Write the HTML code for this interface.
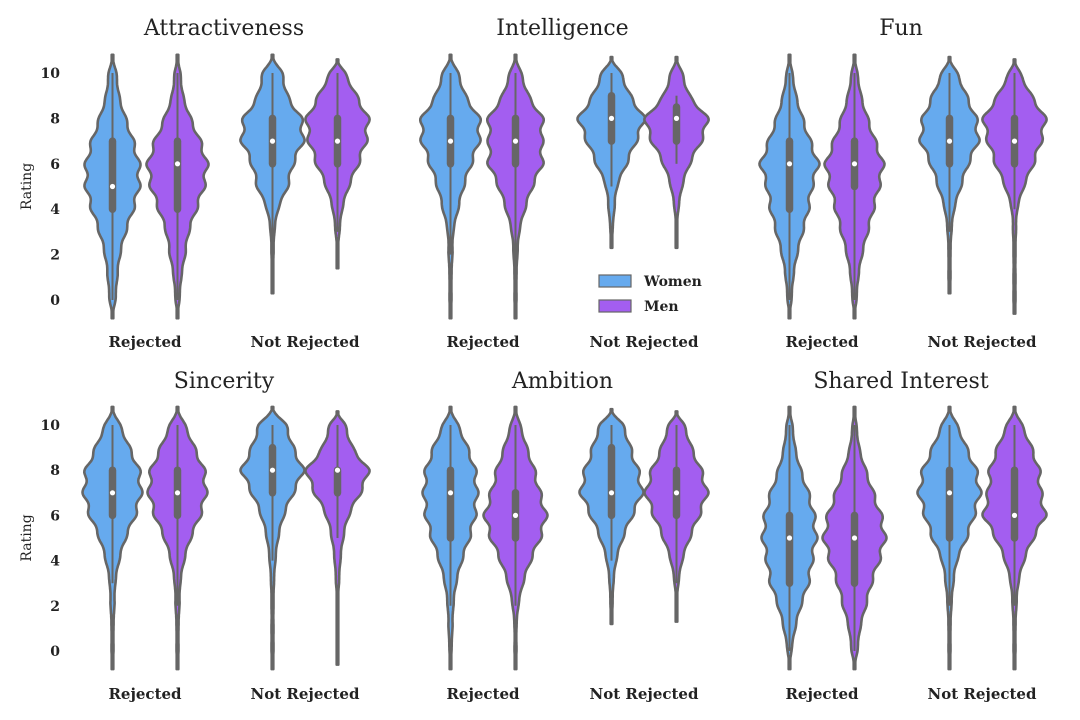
<!DOCTYPE html>
<html><head><meta charset="utf-8"><style>
body{margin:0;background:#fff}
svg{display:block;font-family:"DejaVu Serif","Liberation Serif",serif}
</style></head><body>
<svg id="chart" width="1080" height="720"></svg>
<script>
const panelTitles=["Attractiveness","Intelligence","Fun","Sincerity","Ambition","Shared Interest"];
const categories=["Rejected","Not Rejected"];
const groups=["Women","Men"];
const yTicks=[0,2,4,6,8,10];
// density half-widths at ratings 0..10, per panel: [W-Rej, M-Rej, W-NR, M-NR]
const densities=[
 [[3,5,8,14,22,28,28,22,14,7,4],[2,4,8,12,20,28,31,24,14,6,3],[0,0,1,2,6,16,22,32,30,16,10],[0,0,0,2,5,12,22,30,32,20,8]],
 [[1,1,2,3,8,14,22,30,30,16,8],[1,1,2,4,10,18,28,28,28,14,6],[0,0,0,1,3,6,16,26,34,20,10],[0,0,0,0,2,6,14,26,32,14,6]],
 [[2,4,8,14,20,24,30,22,14,7,3],[2,4,8,14,20,26,30,22,14,7,3],[0,1,1,2,5,12,20,30,28,18,8],[1,1,1,1.5,3,10,20,28,32,18,6]],
 [[1,1,2,3,7,14,24,30,28,18,8],[1,1,2,3,7,14,24,30,28,18,8],[1,1,1,1.5,3,6,12,22,32,22,14],[0,0,0,1.5,3,6,12,24,32,16,8]],
 [[1,2,3,6,12,20,26,28,26,18,8],[1,1,3,8,16,26,32,26,20,12,5],[0,0,1,2,5,12,22,32,28,20,12],[0,0,0,2,6,14,24,32,26,16,8]],
 [[2,6,12,20,24,28,26,20,12,6,3],[3,6,12,18,26,32,28,20,12,5,2],[1,1,2,4,8,18,26,32,28,18,8],[1,1,2,4,10,20,32,28,26,18,8]]
];
const extentLo=[[-0.8,-0.8,0.3,1.4],[-0.8,-0.8,2.3,2.3],[-0.8,-0.8,0.3,-0.6],[-0.8,-0.8,-0.8,-0.6],[-0.8,-0.8,1.2,1.3],[-0.8,-0.8,-0.8,-0.8]];
const extentHi=[[10.8,10.8,10.8,10.6],[10.8,10.8,10.7,10.7],[10.8,10.8,10.7,10.6],[10.8,10.8,10.8,10.6],[10.8,10.8,10.7,10.6],[10.8,10.8,10.8,10.8]];
const medians=[[5,6,7,7],[7,7,8,8],[6,6,7,7],[7,7,8,8],[7,6,7,7],[5,5,7,6]];
const q1s=[[4,4,6,6],[6,6,7,7],[4,5,6,6],[6,6,7,7],[5,5,6,6],[3,3,5,5]];
const q3s=[[7,7,8,8],[8,8,9,8.5],[7,7,8,8],[8,8,9,8],[8,7,9,8],[6,6,8,8]];
const whiskLo=[[0,0,2,3],[2,1,5,6],[0,0,3,4],[3,2,4,5],[2,2,4,3],[0,0,2,2]];
const whiskHi=[[10,10,10,10],[10,10,10,9],[10,10,10,10],[10,10,10,10],[10,10,10,10],[10,10,10,10]];

const colors=["#66aaee","#a35ef0"];
const NS="http://www.w3.org/2000/svg";
const svg=document.getElementById('chart');
function mk(t,a,p){const e=document.createElementNS(NS,t);for(const k in a)e.setAttribute(k,a[k]);(p||svg).appendChild(e);return e;}
const colCenters=[[145,305],[483,644],[822,982]];
const rowY10=[73,425], rowY0=[300,651];
function yScale(r,v){return rowY0[r]+(rowY10[r]-rowY0[r])*v/10;}
function widthAt(d,lo,hi,v){
 const ks=[lo],ws=[0];
 for(let i=0;i<=10;i++){if(i>lo&&i<hi){ks.push(i);ws.push(d[i]);}}
 ks.push(hi);ws.push(0);
 let j=0;while(j<ks.length-2&&v>ks[j+1])j++;
 const x0=ks[j],x1=ks[j+1],w0=ws[j],w1=ws[j+1];
 const m=(k)=>{if(k<=0||k>=ks.length-1)return 0;return (ws[k+1]-ws[k-1])/(ks[k+1]-ks[k-1]);};
 const h=x1-x0,t=(v-x0)/h,m0=m(j)*h,m1=m(j+1)*h;
 const t2=t*t,t3=t2*t;
 let w=(2*t3-3*t2+1)*w0+(t3-2*t2+t)*m0+(-2*t3+3*t2)*w1+(t3-t2)*m1;
 w=w*(1-0.14*(1-Math.cos(2*Math.PI*v))/2);
 return Math.max(w,0.8);
}
for(let p=0;p<6;p++){
 const r=Math.floor(p/3),c=p%3;
 const g=mk('g',{}); 
 const cx=(colCenters[c][0]+colCenters[c][1])/2;
 const tt=mk('text',{x:cx-1,y:r?388:35,'text-anchor':'middle','font-size':22,fill:'#222'},g);tt.textContent=panelTitles[p];
 
 categories.forEach((cat,ci)=>{
  const lb=mk('text',{x:colCenters[c][ci],y:r?699:347,'text-anchor':'middle','font-size':15,'font-weight':'bold',fill:'#222'},g);lb.textContent=cat;
  
 });
 if(c===0){
  yTicks.forEach(v=>{const t=mk('text',{x:60,y:yScale(r,v)+5,'text-anchor':'end','font-size':14,'font-weight':'bold',fill:'#222'},g);t.textContent=v;
   });
  const yl=mk('text',{x:0,y:0,transform:`translate(31,${(rowY0[r]+rowY10[r])/2}) rotate(-90)`,'text-anchor':'middle','font-size':14,fill:'#222'},g);yl.textContent='Rating';
  
 }
 for(let k=0;k<4;k++){
  const ci=k>>1,gi=k&1;
  const x=colCenters[c][ci]+(gi?32.5:-32.5);
  const lo=extentLo[p][k],hi=extentHi[p][k],d=densities[p][k];
  const right=[],left=[];
  const n=160;
  for(let s=0;s<=n;s++){const v=lo+(hi-lo)*s/n;const w=widthAt(d,lo,hi,v);right.push([x+w,yScale(r,v)]);left.push([x-w,yScale(r,v)]);}
  const pts=right.concat(left.reverse());
  const path=mk('path',{d:'M'+pts.map(q=>q[0].toFixed(1)+','+q[1].toFixed(1)).join('L')+'Z',fill:colors[gi],stroke:'#666',"stroke-width":2.6,"stroke-linejoin":"round"},g);
  
  const wl=mk('line',{x1:x,x2:x,y1:yScale(r,whiskLo[p][k]),y2:yScale(r,whiskHi[p][k]),stroke:'#666','stroke-width':2},g);
  
  const bx=mk('line',{x1:x,x2:x,y1:yScale(r,q1s[p][k]),y2:yScale(r,q3s[p][k]),stroke:'#666','stroke-width':7.5,'stroke-linecap':'round'},g);
  
  const md=mk('circle',{cx:x,cy:yScale(r,medians[p][k]),r:2.6,fill:'#fff'},g);
  
 }
}
const lg=mk('g',{});
groups.forEach((gname,i)=>{
 const y=275+i*25;
 const rc=mk('rect',{x:599,y:y,width:32,height:12,fill:colors[i],stroke:'#666','stroke-width':1.2},lg);
 
 const t=mk('text',{x:644,y:y+11,'font-size':14,'font-weight':'bold',fill:'#222'},lg);t.textContent=gname;
 
});
</script>
</body></html>
